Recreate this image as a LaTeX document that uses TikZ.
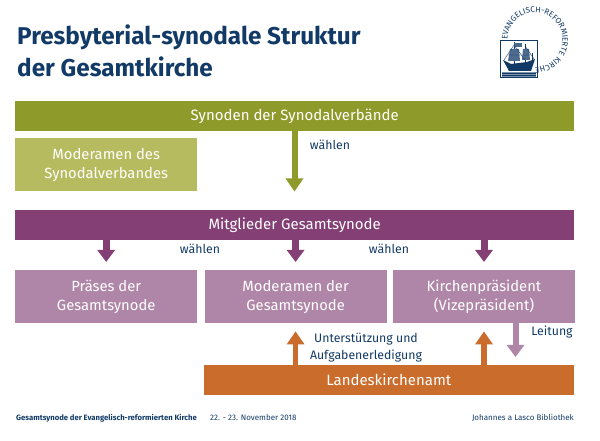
\documentclass[tikz,border=0pt]{standalone}
\usepackage{fontspec}
\setmainfont{Fira Sans}
\usepackage{xcolor}
\usetikzlibrary{arrows.meta, positioning, decorations.text}

\definecolor{navy}{HTML}{123A66}
\definecolor{olive}{HTML}{8E9A29}
\definecolor{oliveL}{HTML}{B7BB60}
\definecolor{plum}{HTML}{843F75}
\definecolor{plumL}{HTML}{AF86A8}
\definecolor{rust}{HTML}{CA6C2B}

\tikzset{
  bar/.style={minimum width=559, minimum height=30, text=white, inner sep=0pt, font=\fontsize{15}{18}\selectfont},
  tile/.style={minimum width=182, minimum height=53, text=white, inner sep=0pt, align=center, fill=plumL, font=\fontsize{14.8}{19}\selectfont},
  label/.style={text=navy, inner sep=0pt, align=center, font=\fontsize{12.3}{16.5}\selectfont},
  pfeil/.style={line width=#1, -{Triangle[length=13, width=17]}},
}

\begin{document}
\begin{tikzpicture}[x=1pt, y=1pt]
\useasboundingbox (0,0) rectangle (600,441);

% Title
\node[anchor=north west, inner sep=0pt, text=navy, align=left, font=\fontsize{24.3}{32}\bfseries\selectfont] (titel) at (17,416.5) {Presbyterial-synodale Struktur\\der Gesamtkirche};

% Logo
\draw[navy, line width=1.2] (500.5,363.5) rectangle (537.5,400.5);
% hull and water
\fill[navy] (503,381) -- (509,370) -- (531,370) -- (535,382) -- (527,379) -- (511,377) -- cycle;
\fill[navy!55] (502,364) rectangle (536,369);
\draw[navy, line width=0.5] (502,365.5) -- (536,365.5) (502,367.5) -- (536,367.5);
% masts, sails, rigging
\draw[navy, line width=0.8] (514,377) -- (514,399) (525,378) -- (525,397) (532,380) -- (532,388);
\fill[navy!75] (508,380) -- (520,380) -- (519,392) -- (510,392) -- cycle;
\fill[navy!75] (522,381) -- (530,381) -- (529,392) -- (523,392) -- cycle;
\fill[navy!75] (514,394) rectangle (522,398);
\draw[navy, line width=0.4] (504,381) -- (514,396) -- (525,381) (525,395) -- (534,382) (508,386) -- (520,386) (522,386) -- (530,386);
\path[decorate, decoration={text along path, text={|\fontsize{8}{9}\selectfont\color{navy}|EVANGELISCH-REFORMIERTE KIRCHE{}{}}, text align=left}]
  (507.5,401) arc[start angle=180, end angle=-110, radius=27.5];

% Olive part
\node[bar, fill=olive, anchor=north west] (synoden) at (15,340) {Synoden der Synodalverbände};
\node[tile, fill=oliveL, anchor=north west] (modsv) at (15,303) {Moderamen des\\Synodalverbandes};

% Plum part
\node[bar, fill=plum, anchor=north west] (mitglieder) at (15,231) {Mitglieder Gesamtsynode};
\node[tile, anchor=north west] (praeses) at (15,171) {Präses der\\Gesamtsynode};
\node[tile, right=7 of praeses] (modgs) {Moderamen der\\Gesamtsynode};
\node[tile, right=6 of modgs] (praesident) {Kirchenpräsident\\(Vizepräsident)};

% Orange part
\node[bar, minimum width=370, fill=rust, anchor=north east] (amt) at (574,76) {Landeskirchenamt};

% Arrows
\coordinate (wahlziel) at (294.5,249.5);
\draw[pfeil=6, olive] (wahlziel |- synoden.south) -- (wahlziel);
\foreach \ziel in {praeses, modgs, praesident}
  \draw[pfeil=7, plum, -{Triangle[length=12, width=17]}] (\ziel.north |- mitglieder.south) -- ([yshift=8]\ziel.north);
\foreach \ziel in {modgs, praesident}
  \draw[pfeil=5.5, rust] (\ziel.south |- amt.north) -- ([yshift=-8]\ziel.south);
\coordinate (leitziel) at (515.5,84);
\draw[pfeil=6, plumL, -{Triangle[length=12, width=17]}] (leitziel |- praesident.south) -- (leitziel);

% Labels
\node[label] (w1) at (330,296) {wählen};
\node[label] (w2) at (200,192) {wählen};
\node[label] (w3) at (389,192) {wählen};
\node[label] (unterst) at (366,93.5) {Unterstützung und\\Aufgabenerledigung};
\node[label] (leitung) at (552,108.5) {Leitung};

% Footer
\node[anchor=base west, inner sep=0pt, text=navy, font=\fontsize{7.7}{9}\bfseries\selectfont] (fuss) at (16,20) {Gesamtsynode der Evangelisch-reformierten Kirche};
\node[anchor=base west, inner sep=0pt, text=navy, font=\fontsize{8}{9}\selectfont] (datum) at (210,20) {22. - 23. November 2018};
\node[anchor=base east, inner sep=0pt, text=navy, font=\fontsize{8}{9}\selectfont] (biblio) at (574,20) {Johannes a Lasco Bibliothek};
\end{tikzpicture}
\end{document}
